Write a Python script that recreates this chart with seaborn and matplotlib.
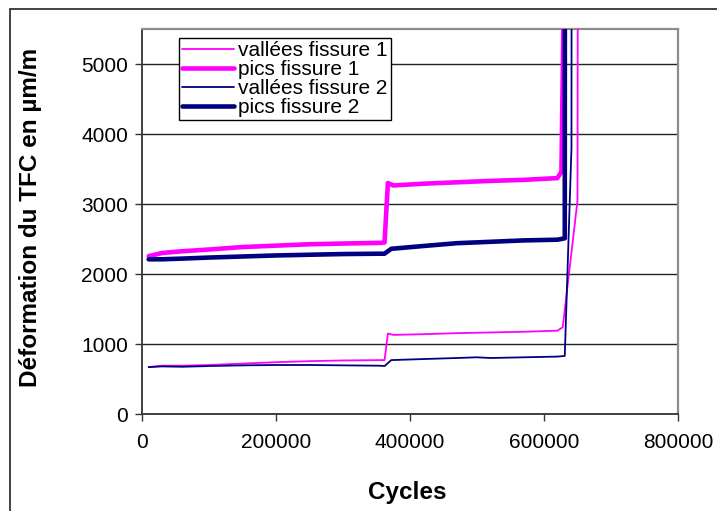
import matplotlib
matplotlib.use("Agg")
import matplotlib.pyplot as plt
import seaborn as sns
import pandas as pd
from matplotlib.patches import Rectangle
from matplotlib.ticker import FixedLocator, FuncFormatter

# ---- data ----
cycles_v1 = [10000, 30000, 60000, 100000, 150000, 200000, 250000, 300000, 355000, 362000,
             367000, 375000, 420000, 470000, 520000, 570000, 620000, 628000, 650000, 650500]
vallees_f1 = [670, 690, 690, 700, 720, 740, 755, 765, 770, 770,
              1150, 1130, 1140, 1155, 1165, 1175, 1190, 1240, 3050, 7000]

cycles_p1 = [10000, 30000, 60000, 100000, 150000, 200000, 250000, 300000, 355000, 362000,
             367000, 375000, 420000, 470000, 520000, 570000, 620000, 626000, 631000]
pics_f1 = [2255, 2300, 2325, 2350, 2385, 2405, 2425, 2435, 2445, 2450,
           3300, 3265, 3290, 3310, 3330, 3345, 3370, 3460, 7000]

cycles_v2 = [10000, 30000, 60000, 100000, 150000, 200000, 250000, 300000, 355000, 362000,
             372000, 420000, 470000, 500000, 520000, 570000, 620000, 631000, 641000, 641200]
vallees_f2 = [670, 680, 675, 685, 695, 700, 700, 695, 690, 685,
              770, 785, 800, 810, 800, 810, 820, 830, 3800, 7000]

cycles_p2 = [10000, 30000, 60000, 100000, 150000, 200000, 250000, 300000, 355000, 362000,
             372000, 420000, 470000, 520000, 570000, 620000, 631000, 631200]
pics_f2 = [2210, 2210, 2220, 2235, 2250, 2265, 2275, 2285, 2290, 2290,
           2360, 2400, 2440, 2460, 2480, 2490, 2510, 7000]

labels = ["vallées fissure 1", "pics fissure 1", "vallées fissure 2", "pics fissure 2"]
x_ticks = [0, 200000, 400000, 600000, 800000]
y_ticks = [0, 1000, 2000, 3000, 4000, 5000]

MAGENTA = "#FF00FF"
NAVY = "#000080"

sns.set_style("white")
plt.rcParams["font.family"] = ["Liberation Sans", "DejaVu Sans"]
plt.rcParams["text.color"] = "black"
plt.rcParams["axes.labelcolor"] = "black"
plt.rcParams["xtick.color"] = "black"
plt.rcParams["ytick.color"] = "black"

W, H = 717, 511
fig = plt.figure(figsize=(W / 100, H / 100), dpi=100)
L, R, T, B = 142, 678, 29, 414
ax = fig.add_axes([L / W, 1 - B / H, (R - L) / W, (B - T) / H])

series = [
    (cycles_v1, vallees_f1, MAGENTA, 1.3),
    (cycles_p1, pics_f1, MAGENTA, 3.3),
    (cycles_v2, vallees_f2, NAVY, 1.3),
    (cycles_p2, pics_f2, NAVY, 3.3),
]
for (xs, ys, col, lw), lab in zip(series, labels):
    df = pd.DataFrame({"Cycles": xs, "val": ys})
    sns.lineplot(data=df, x="Cycles", y="val", ax=ax, color=col, linewidth=lw,
                 sort=False, estimator=None, label=lab, zorder=3)

ax.set_xlim(0, 800000)
ax.set_ylim(0, 5500)
ax.xaxis.set_major_locator(FixedLocator(x_ticks))
ax.yaxis.set_major_locator(FixedLocator(y_ticks))
ax.xaxis.set_major_formatter(FuncFormatter(lambda v, p: f"{int(v)}"))
ax.yaxis.set_major_formatter(FuncFormatter(lambda v, p: f"{int(v)}"))

ax.yaxis.grid(True, color="#222222", linewidth=1.0)
ax.xaxis.grid(False)
ax.set_axisbelow(True)

for s in ["left", "bottom"]:
    ax.spines[s].set_color("#333333")
    ax.spines[s].set_linewidth(1.3)
for s in ["top", "right"]:
    ax.spines[s].set_color("#8c8c8c")
    ax.spines[s].set_linewidth(1.6)

ax.tick_params(axis="y", which="major", direction="out", length=5, width=1,
               color="#333333", labelcolor="black", pad=5, labelsize=15, left=True)
ax.tick_params(axis="x", which="major", direction="out", length=5, width=1,
               color="#333333", labelcolor="black", pad=9, labelsize=15, bottom=True)

ax.set_xlabel("Cycles", fontsize=17.5, fontweight="bold", va="center", color="black")
ax.set_ylabel("Déformation du TFC en µm/m", fontsize=17.5, fontweight="bold",
              va="center", color="black")
ax.xaxis.set_label_coords((407 - L) / (R - L), (B - 493) / (B - T))
ax.yaxis.set_label_coords((30 - L) / (R - L), (B - 217) / (B - T))

leg = ax.legend(loc="upper left", bbox_to_anchor=(179 / W, 1 - 38 / H),
                bbox_transform=fig.transFigure, frameon=True, fancybox=False,
                edgecolor="black", framealpha=1, borderpad=0.15, labelspacing=0.0,
                handlelength=2.5, handletextpad=0.2, borderaxespad=0, fontsize=15)
leg.get_frame().set_linewidth(1.0)
for t in leg.get_texts():
    t.set_color("black")

fig.add_artist(Rectangle((10 / W, -0.2), 1.5, 1.2 - 9 / H, transform=fig.transFigure,
                         fill=False, edgecolor="#333333", linewidth=1.3, clip_on=False))

fig.savefig("out.png", dpi=100)
